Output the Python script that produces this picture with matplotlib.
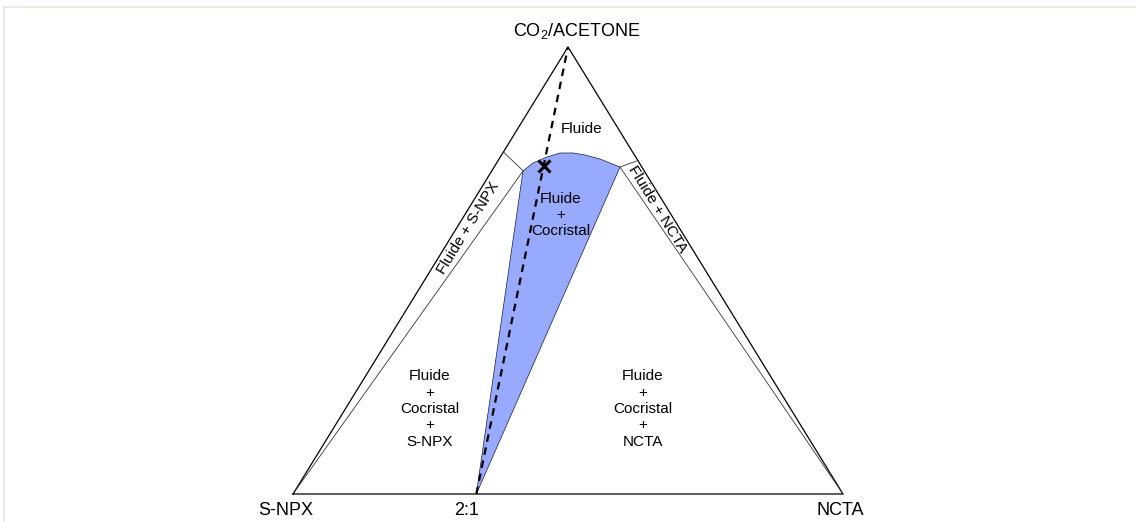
import matplotlib.pyplot as plt
import numpy as np
from matplotlib.lines import Line2D

plt.rcParams['font.family'] = ['Liberation Sans', 'DejaVu Sans']
plt.rcParams['mathtext.fontset'] = 'custom'
plt.rcParams['mathtext.rm'] = 'Liberation Sans'

# ---- data: compositions as (fraction CO2/acetone, fraction NCTA) ----
# S-NPX fraction is the remainder
corner_names = ['S-NPX', 'NCTA', r'CO$_{2}$/ACETONE']
corners_co2 = [0.0, 0.0, 1.0]
corners_ncta = [0.0, 1.0, 0.0]

cocrystal_label = '2:1'
cocrystal_ncta = 1 / 3          # 2:1 S-NPX:NCTA on the base

# boundary of the fluid + S-NPX band
left_cap_co2 = [0.765, 0.723]
left_cap_ncta = [0.000, 0.057]
# boundary of the fluid + NCTA band
right_cap_co2 = [0.746, 0.7315]
right_cap_ncta = [0.254, 0.2288]

# top edge of the fluid + cocrystal domain (solubility curve)
curve_co2 = [0.7226, 0.7405, 0.7539, 0.7629, 0.7629, 0.7584, 0.7494, 0.7315]
curve_ncta = [0.0569, 0.0661, 0.0849, 0.1040, 0.1276, 0.1517, 0.1835, 0.2288]

# measured point on the 2:1 line
point_co2 = 0.734
point_ncta = (1 - point_co2) / 3


def to_xy(co2, ncta):
    co2 = np.asarray(co2, dtype=float)
    ncta = np.asarray(ncta, dtype=float)
    return ncta + 0.5 * co2, co2


fig = plt.figure(figsize=(11.36, 5.22), dpi=100)
ax = fig.add_axes([0, 0, 1, 1])
ax.set_xlim(-293 / 550, (1136 - 293) / 550)
ax.set_ylim((494 - 522) / 447, 494 / 447)
ax.axis('off')

# light frame of the original picture
frame_c = '#e6e6dc'
fig.add_artist(Line2D([4 / 1136, 1], [1 - 7 / 522, 1 - 7 / 522], color=frame_c, lw=1.2, transform=fig.transFigure))
fig.add_artist(Line2D([4 / 1136, 4 / 1136], [0, 1 - 7 / 522], color=frame_c, lw=1.2, transform=fig.transFigure))

# cocrystal domain
dom_co2 = [0.0] + curve_co2
dom_ncta = [cocrystal_ncta] + curve_ncta
dx, dy = to_xy(dom_co2, dom_ncta)
ax.fill(dx, dy, facecolor='#98aafd', edgecolor='#1a1a40', lw=0.5, zorder=2)

# outer triangle
tx, ty = to_xy(corners_co2 + [corners_co2[0]], corners_ncta + [corners_ncta[0]])
ax.plot(tx, ty, color='black', lw=0.9, zorder=3)

# band boundaries
lx, ly = to_xy([0.0] + left_cap_co2[::-1], [0.0] + left_cap_ncta[::-1])
ax.plot(lx, ly, color='#333333', lw=0.6, zorder=3)
rx, ry = to_xy([0.0] + right_cap_co2[::-1], [1.0] + right_cap_ncta[::-1])
ax.plot(rx, ry, color='#333333', lw=0.6, zorder=3)

# 2:1 dashed line to the solvent apex
ddx, ddy = to_xy([0.0, 1.0], [cocrystal_ncta, 0.0])
ax.plot(ddx, ddy, color='black', lw=1.6, linestyle=(0, (3.4, 2.6)), zorder=4)
px, py = to_xy(point_co2, point_ncta)
ax.plot(px, py, marker='x', color='black', ms=8, mew=2.2, zorder=5)

# corner labels
fs_corner = 13
ax.text(0.516, 1.0358, corner_names[2], ha='center', va='center', fontsize=fs_corner)
ax.text(-0.0127, -0.0358, corner_names[0], ha='center', va='center', fontsize=fs_corner)
ax.text(0.9945, -0.0358, corner_names[1], ha='center', va='center', fontsize=fs_corner)
ax.text(0.3164, -0.0358, cocrystal_label, ha='center', va='center', fontsize=fs_corner)

# region labels
fs = 11
ls = 1.22
ax.text(0.5255, 0.8166, 'Fluide', ha='center', va='center', fontsize=fs)
ax.text(0.4873, 0.6242, 'Fluide\n+\nCocristal', ha='center', va='center', fontsize=fs, linespacing=ls)
ax.text(0.249, 0.190, 'Fluide\n+\nCocristal\n+\nS-NPX', ha='center', va='center', fontsize=fs, linespacing=ls)
ax.text(0.636, 0.190, 'Fluide\n+\nCocristal\n+\nNCTA', ha='center', va='center', fontsize=fs, linespacing=ls)

# rotated band labels, aligned with the triangle sides
fig.canvas.draw()
p0 = ax.transData.transform((0, 0))
p1 = ax.transData.transform((0.5, 1))
ang = np.degrees(np.arctan2(p1[1] - p0[1], p1[0] - p0[0]))
ax.text(0.318, 0.595, 'Fluide + S-NPX', ha='center', va='center', fontsize=fs,
        rotation=ang, rotation_mode='anchor')
ax.text(0.662, 0.6376, 'Fluide + NCTA', ha='center', va='center', fontsize=fs,
        rotation=-ang, rotation_mode='anchor')

fig.savefig('out.png', dpi=100)
